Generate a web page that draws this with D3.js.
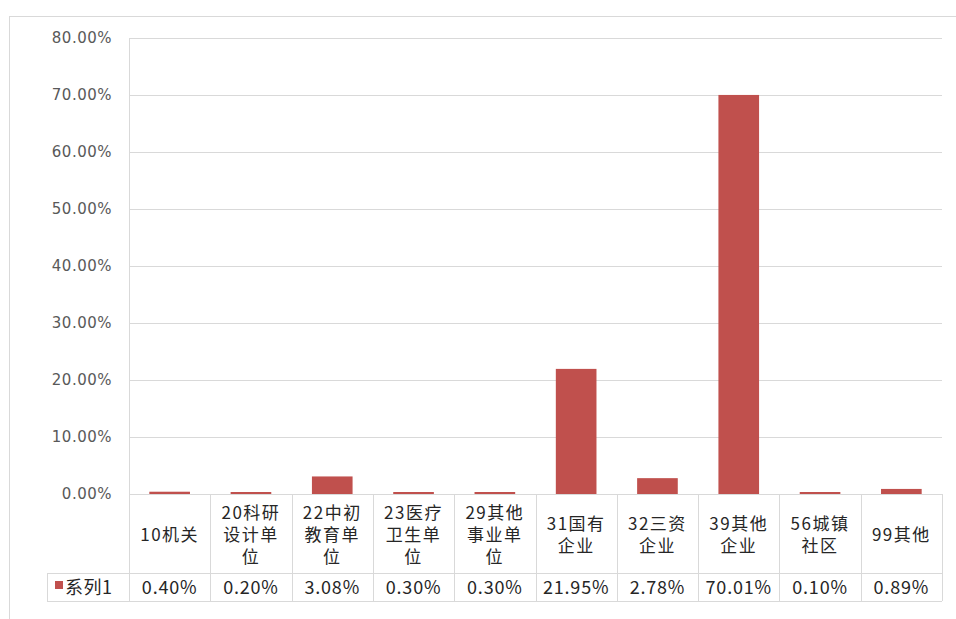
<!DOCTYPE html>
<html><head><meta charset="utf-8">
<script src="https://cdn.jsdelivr.net/npm/d3@7"></script>
<style>body{margin:0;background:#fff;}svg{display:block;}</style>
</head><body>
<script>
const categories = [
  ["10机关"],
  ["20科研","设计单","位"],
  ["22中初","教育单","位"],
  ["23医疗","卫生单","位"],
  ["29其他","事业单","位"],
  ["31国有","企业"],
  ["32三资","企业"],
  ["39其他","企业"],
  ["56城镇","社区"],
  ["99其他"]
];
const values = [0.40, 0.20, 3.08, 0.30, 0.30, 21.95, 2.78, 70.01, 0.10, 0.89];
const valueLabels = ["0.40%","0.20%","3.08%","0.30%","0.30%","21.95%","2.78%","70.01%","0.10%","0.89%"];
const yTicks = [0,10,20,30,40,50,60,70,80];
const seriesName = "系列1";

(function(){
const W = 956, H = 619;
const svg = d3.select("body").append("svg").attr("width", W).attr("height", H);
const pLeft = 129, pRight = 942, pTop = 38, pBottom = 494;
const rowH = 79, dataH = 28, legendLeft = 47;
const grid = "#d9d9d9", barColor = "#c0504d";

// outer frame
svg.append("line").attr("x1",9).attr("x2",W).attr("y1",16.5).attr("y2",16.5).attr("stroke",grid);
svg.append("line").attr("x1",9.5).attr("x2",9.5).attr("y1",16).attr("y2",H).attr("stroke",grid);

const x = d3.scaleBand().domain(d3.range(categories.length)).range([pLeft, pRight]).paddingInner(0.5).paddingOuter(0.25);
const xc = d3.scaleBand().domain(d3.range(categories.length)).range([pLeft, pRight]);
const y = d3.scaleLinear().domain([0, 80]).range([pBottom, pTop]);

// gridlines
svg.append("g").selectAll("line").data(yTicks).join("line")
  .attr("x1", pLeft).attr("x2", pRight)
  .attr("y1", d => Math.round(y(d))+0.5).attr("y2", d => Math.round(y(d))+0.5)
  .attr("stroke", grid);

// y axis labels
svg.append("g").selectAll("text").data(yTicks).join("text")
  .attr("x", 112).attr("y", d => y(d)).attr("dy","0.36em")
  .attr("text-anchor","end")
  .attr("font-family","DejaVu Sans, Verdana, sans-serif").attr("font-size",15)
  .attr("letter-spacing","0.5px")
  .attr("fill","#595959")
  .text(d => d3.format(".2f")(d) + "%");

// bars (minimum visible height of 2px, as in the source)
const bh = d => Math.max(pBottom - y(d), 2);
svg.append("g").selectAll("rect").data(values).join("rect")
  .attr("x", (d,i) => x(i)).attr("width", x.bandwidth())
  .attr("y", d => pBottom - bh(d)).attr("height", d => bh(d))
  .attr("fill", barColor);

// table lines
const tbl = svg.append("g").attr("stroke", grid).attr("fill","none");
tbl.append("line").attr("x1",pLeft+0.5).attr("x2",pLeft+0.5).attr("y1",pTop).attr("y2",pBottom+rowH+dataH);
tbl.append("line").attr("x1",legendLeft).attr("x2",pRight).attr("y1",pBottom+rowH+0.5).attr("y2",pBottom+rowH+0.5);
tbl.append("line").attr("x1",legendLeft).attr("x2",pRight).attr("y1",pBottom+rowH+dataH+0.5).attr("y2",pBottom+rowH+dataH+0.5);
tbl.append("line").attr("x1",legendLeft+0.5).attr("x2",legendLeft+0.5).attr("y1",pBottom+rowH).attr("y2",pBottom+rowH+dataH);
tbl.selectAll("line.v").data(d3.range(categories.length)).join("line").attr("class","v")
  .attr("x1", i => Math.round(xc(i)+xc.bandwidth())+0.5).attr("x2", i => Math.round(xc(i)+xc.bandwidth())+0.5)
  .attr("y1", pBottom).attr("y2", pBottom+rowH+dataH);

// category labels (one text per cell, lines as tspans)
const lh = 22;
const catG = svg.append("g").attr("font-family","Noto Sans CJK SC, sans-serif").attr("font-size",17)
  .attr("fill","#262626").attr("text-anchor","middle").attr("letter-spacing","1.5px");
categories.forEach((lines,i) => {
  const cx = xc(i) + xc.bandwidth()/2;
  const cy = pBottom + rowH/2 + 1;
  const t = catG.append("text");
  lines.forEach((s,j) => {
    t.append("tspan").attr("x", cx).attr("y", cy + (j - (lines.length-1)/2)*lh).attr("dy","0.36em").text(s);
  });
});

// data row
svg.append("g").attr("font-family","Noto Sans CJK SC, sans-serif").attr("font-size",18)
  .attr("fill","#262626").attr("text-anchor","middle").attr("letter-spacing","0.8px")
  .selectAll("text").data(valueLabels).join("text")
  .attr("x",(d,i)=> xc(i)+xc.bandwidth()/2).attr("y", pBottom+rowH+dataH/2+1).attr("dy","0.36em")
  .text(d=>d);

// legend key
svg.append("rect").attr("x",55).attr("y",581).attr("width",8).attr("height",8).attr("fill",barColor);
svg.append("text").attr("x",65).attr("y",pBottom+rowH+dataH/2+1).attr("dy","0.36em")
  .attr("font-family","Noto Sans CJK SC, sans-serif").attr("font-size",18).attr("fill","#262626")
  .attr("letter-spacing","0.5px").text(seriesName);
})();
</script>
</body></html>
